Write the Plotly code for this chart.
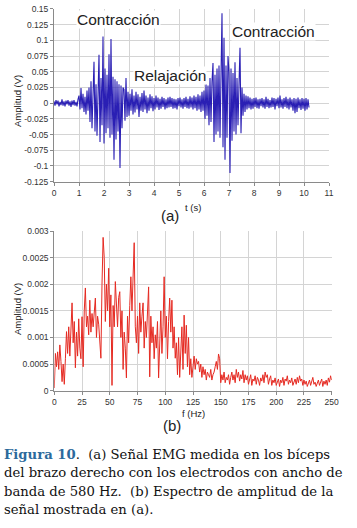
import numpy as np
import plotly.graph_objects as go

W, H = 357, 528

# ---------------- Data ----------------
# EMG signal (a): samples every 0.04 s, values in mV
emg_step_s = 0.04
emg_mv = [
    3, -4, 5, -2, 4, -5, 2, -3, 6, -4, 3, -5, 4, -2, 5, -4, 3, -6, 4, -3, 5, -4, 2, -5, 6,
    12, -10, 24, -8, 15, -14, 10, -18, 20, -12,
    25, -30, 35, -40, 28, 66, -45, 30, -52, 48, 77, -62, 40, -35, 106, -64, 55, -48, 45, -40,
    78, -55, 102, -50, 42, -90, 38, -58, 35, -45, 30, -103, 28, -40, 25,
    22, -28, 40, -22, 18,
    -20, 15, -12, 22, -18, 12, -15, 18, -10, 14, -22, 10, -12, 16, -14, 20, -10, 12, -16, 9,
    -12, 14, -8, 11, -13, 8, -10, 12, -7, 9, -11, 7, -9, 10, -6, 8, -10, 6, -8, 9,
    -7, 10, -6, 8, -9, 7, -8, 6, -10, 8, -5, 9, -7, 6, -9, 8, -6, 10, -8, 7,
    -9, 11, -7, 9, -10, 12, -8, 10, -12, 14, -10, 12, -14, 18, -12,
    20, -25, 30, -20, 28, -35, 40, -30, 35, 64, -62, 45, -50, 55, -45, 60, -55, 70, 143, -70,
    104, -90, 60, -55, 75, 50, -111, 55, -60, 48, -45, 65, -50, 40, -35, 30, 88, -48, 25, -20, 15,
    -14, 12, -10, 11, -8, 9, -10, 7, -9, 8, -6, 9, -8, 6, -9, 7, -5, 8, -7, 6,
    -9, 10, -6, 7, -8, 5, -7, 9, -6, 8, -10, 7, -5, 9, -8, 12, -7, 6, -9, 8,
    -6, 10, -8, 7, -10, 9, -7, 6, -12, 8, -16, 7, -14, 9, -8, 6, -11, 8, -9, 7,
    -12, 8, -10, 6, -7,
]

# Amplitude spectrum (b): one value per Hz from 0 to 250 Hz, in mV
spec_step_hz = 1
spec_mv = [
    0.05, 0.70, 0.45, 0.73, 0.40, 0.86, 0.55, 0.17, 0.50, 0.12,
    0.60, 1.11, 0.70, 1.20, 0.65, 1.35, 1.65, 0.90, 1.30, 0.43,
    1.10, 0.65, 1.35, 0.80, 0.60, 1.39, 0.45, 1.50, 1.93, 1.20,
    1.40, 1.05, 1.70, 1.10, 1.45, 1.20, 1.55, 1.74, 1.00, 1.40,
    1.25, 0.90, 0.61, 2.00, 2.88, 2.50, 1.30, 2.00, 1.50, 2.30,
    1.20, 1.80, 0.10, 1.60, 1.20, 2.05, 1.50, 1.20, 1.75, 1.86,
    1.00, 1.50, 0.40, 1.10, 0.80, 0.24, 1.40, 0.90, 1.60, 2.14,
    1.50, 2.30, 2.78, 1.20, 0.90, 1.40, 0.70, 1.65, 1.10, 1.40,
    1.65, 0.80, 1.30, 1.00, 1.50, 1.95, 0.26, 1.40, 0.90, 1.20,
    0.60, 1.05, 0.80, 1.30, 0.24, 1.00, 1.50, 0.70, 1.20, 2.14,
    1.00, 1.40, 0.60, 1.30, 1.74, 1.10, 1.70, 0.80, 1.20, 0.61,
    0.90, 0.30, 1.00, 0.25, 0.80, 1.20, 0.40, 1.42, 0.70, 1.23,
    0.45, 1.00, 0.30, 0.60, 0.25, 0.55, 0.65, 0.40, 0.60, 0.50,
    0.55, 0.35, 0.50, 0.25, 0.45, 0.30, 0.40, 0.20, 0.35, 0.30,
    0.25, 0.40, 0.20, 0.30, 0.35, 0.45, 0.55, 0.40, 0.69, 0.60,
    0.15, 0.30, 0.20, 0.35, 0.15, 0.25, 0.20, 0.30, 0.12, 0.25,
    0.35, 0.20, 0.30, 0.15, 0.40, 0.25, 0.35, 0.18, 0.30, 0.22,
    0.38, 0.15, 0.30, 0.20, 0.28, 0.12, 0.25, 0.30, 0.10, 0.22,
    0.18, 0.28, 0.12, 0.25, 0.20, 0.10, 0.24, 0.18, 0.30, 0.15,
    0.35, 0.25, 0.30, 0.12, 0.22, 0.28, 0.10, 0.20, 0.15, 0.24,
    0.10, 0.18, 0.22, 0.08, 0.20, 0.15, 0.25, 0.10, 0.22, 0.18,
    0.28, 0.12, 0.20, 0.15, 0.24, 0.10, 0.18, 0.22, 0.12, 0.25,
    0.15, 0.28, 0.18, 0.22, 0.10, 0.20, 0.12, 0.18, 0.08, 0.15,
    0.20, 0.10, 0.18, 0.25, 0.12, 0.16, 0.08, 0.14, 0.20, 0.10,
    0.15, 0.22, 0.08, 0.18, 0.12, 0.20, 0.10, 0.24, 0.16, 0.28,
    0.20,
]

# Tick labels
emg_y_ticks = [0.15, 0.125, 0.1, 0.075, 0.05, 0.025, 0, -0.025, -0.05, -0.075, -0.1, -0.125]
emg_y_labels = ["0.15", "0.125", "0.1", "0.075", "0.05", "0.025", "0",
                "-0.025", "-0.05", "-0.075", "-0.1", "-0.125"]
emg_x_ticks = list(range(0, 12))
spec_y_ticks = [0, 0.0005, 0.001, 0.0015, 0.002, 0.0025, 0.003]
spec_y_labels = ["0", "0.0005", "0.001", "0.0015", "0.002", "0.0025", "0.003"]
spec_x_ticks = list(range(0, 251, 25))

caption_lines = [
    "<b><span style='color:#2c6a9c'>Figura 10</span></b>.\u00a0\u00a0(a) Señal EMG medida en los bíceps",
    "del brazo derecho con los electrodos con ancho de",
    "banda de 580 Hz.\u00a0\u00a0(b) Espectro de amplitud de la",
    "señal mostrada en (a).",
]

# ---------------- Figure ----------------
emg_t = np.arange(len(emg_mv)) * emg_step_s
emg_v = np.array(emg_mv) / 1000.0
spec_f = np.arange(len(spec_mv)) * spec_step_hz
spec_v = np.array(spec_mv) / 1000.0


def px(x):
    return x / W


def py(y):
    return 1 - y / H


fig = go.Figure()
fig.add_trace(go.Scatter(x=emg_t, y=emg_v, mode="lines",
                         line=dict(color="#2a1fb4", width=1.1), xaxis="x", yaxis="y",
                         showlegend=False, hoverinfo="skip"))
fig.add_trace(go.Scatter(x=spec_f, y=spec_v, mode="lines",
                         line=dict(color="#e52a22", width=1), xaxis="x2", yaxis="y2",
                         showlegend=False, hoverinfo="skip"))

tickfont = dict(family="Liberation Sans, Arial, sans-serif", size=8.5, color="#333333")
common = dict(showgrid=True, gridcolor="#d4d4d4", gridwidth=1, zeroline=False,
              showline=True, linecolor="#8a8a8a", linewidth=1, ticks="outside",
              ticklen=3, tickcolor="#8a8a8a", tickfont=tickfont, fixedrange=True,
              automargin=False)

fig.update_layout(
    width=W, height=H, margin=dict(l=0, r=0, t=0, b=0, autoexpand=False),
    paper_bgcolor="white", plot_bgcolor="white",
    xaxis=dict(domain=[px(54), px(329)], range=[0, 11], tickvals=emg_x_ticks,
               anchor="y", **common),
    yaxis=dict(domain=[py(181.7), py(8.9)], range=[-0.125, 0.15], tickvals=emg_y_ticks,
               ticktext=emg_y_labels, anchor="x", **common),
    xaxis2=dict(domain=[px(54.3), px(331.7)], range=[0, 250], tickvals=spec_x_ticks,
                anchor="y2", **common),
    yaxis2=dict(domain=[py(390.7), py(231)], range=[0, 0.003], tickvals=spec_y_ticks,
                ticktext=spec_y_labels, anchor="x2", **common),
)

lab = dict(family="Liberation Sans, Arial, sans-serif", color="#222222")
ann = []


def add(text, x, y, size, angle=0, bg=None, xanchor="center", family=None, color=None):
    f = dict(lab)
    f["size"] = size
    if family:
        f["family"] = family
    if color:
        f["color"] = color
    d = dict(text=text, x=px(x), y=py(y), xref="paper", yref="paper", showarrow=False,
             xanchor=xanchor, yanchor="middle", textangle=angle, font=f, borderpad=0)
    if bg:
        d["bgcolor"] = bg
    ann.append(d)


add("Contracción", 118.5, 20, 15.5, bg="white")
add("Relajación", 169.5, 75.5, 15.5, bg="white")
add("Contracción", 273, 31, 15.5, bg="white")
add("Amplitud (V)", 17, 101, 9.5, angle=-90)
add("t (s)", 193, 207.5, 9.5)
add("(a)", 170, 215, 15)
add("Amplitud (V)", 17, 309, 9.5, angle=-90)
add("f (Hz)", 194, 413, 9.5)
add("(b)", 172, 425.5, 15)

serif = "DejaVu Serif, Liberation Serif, serif"
cap_y = [454, 472.5, 491, 509.5]
for line, yy in zip(caption_lines, cap_y):
    add(line, 3, yy, 13.2, xanchor="left", family=serif, color="#111111")

fig.update_layout(annotations=ann)
fig.write_html("out.html", config={"displayModeBar": False, "responsive": False},
               post_script="document.body.style.margin='0';document.body.style.overflow='hidden';")
